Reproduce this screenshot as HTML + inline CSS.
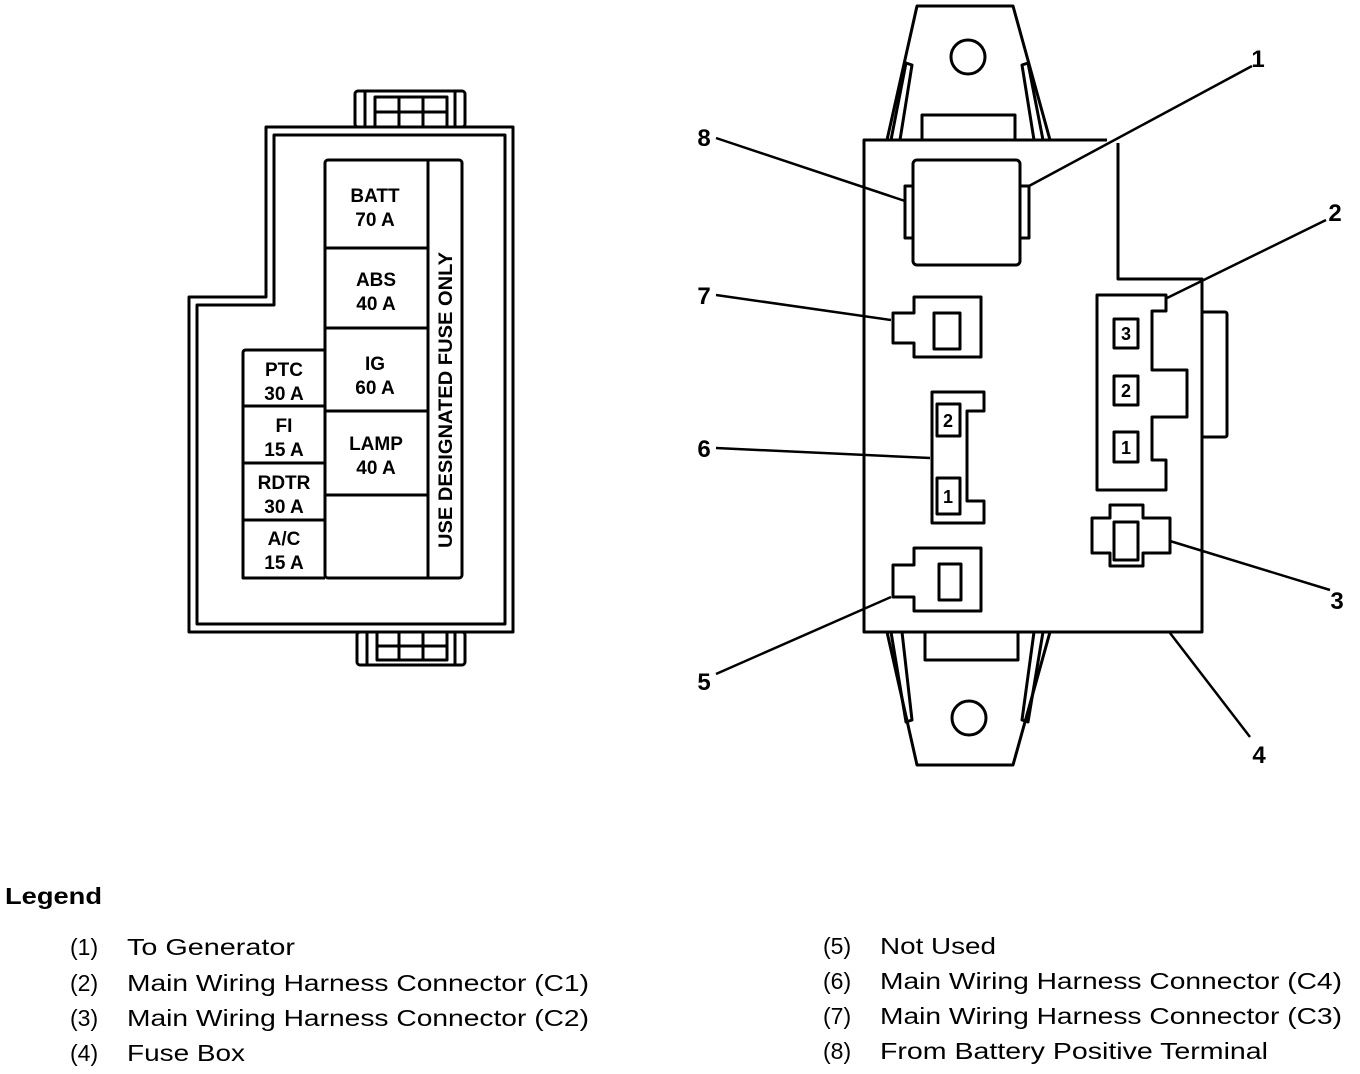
<!DOCTYPE html>
<html><head><meta charset="utf-8"><style>html,body{margin:0;padding:0;background:#fff}svg{display:block}</style></head>
<body>
<svg width="1360" height="1074" viewBox="0 0 1360 1074" xmlns="http://www.w3.org/2000/svg" font-family="Liberation Sans, Arial, sans-serif">
<g fill="none" stroke="#000" stroke-width="3" stroke-linejoin="round">
<!-- LEFT FUSE BOX -->
<rect x="355" y="91" width="110" height="36" rx="3"/>
<line x1="365" y1="91" x2="365" y2="127"/><line x1="455" y1="91" x2="455" y2="127"/>
<rect x="375" y="97" width="72" height="30"/>
<line x1="399" y1="97" x2="399" y2="127"/><line x1="423" y1="97" x2="423" y2="127"/><line x1="375" y1="112" x2="447" y2="112"/>
<rect x="357" y="632" width="108" height="33" rx="3"/>
<line x1="367" y1="632" x2="367" y2="665"/><line x1="455" y1="632" x2="455" y2="665"/>
<rect x="377" y="632" width="70" height="28"/>
<line x1="399" y1="632" x2="399" y2="660"/><line x1="423" y1="632" x2="423" y2="660"/><line x1="377" y1="646" x2="447" y2="646"/>
<path d="M266 127 H513 V632 H189 V297 H266 Z" fill="#fff"/>
<path d="M274 135 H505 V624 H197 V305 H274 Z"/>
<rect x="325" y="160" width="137" height="418" rx="3"/>
<line x1="428" y1="160" x2="428" y2="578"/>
<line x1="325" y1="248" x2="428" y2="248"/>
<line x1="325" y1="328" x2="428" y2="328"/>
<line x1="325" y1="411" x2="428" y2="411"/>
<line x1="325" y1="495" x2="428" y2="495"/>
<path d="M325 350 H246 Q243 350 243 353 V578 H325"/>
<line x1="243" y1="406" x2="325" y2="406"/>
<line x1="243" y1="463" x2="325" y2="463"/>
<line x1="243" y1="520" x2="325" y2="520"/>

<!-- RIGHT FUSE BOX -->
<path d="M887 140 L917 6 H1013 L1050 140"/>
<path d="M900 140 L912 65 L906 63 L891 140"/>
<path d="M1034 140 L1022 65 L1028 63 L1043 140"/>
<ellipse cx="968" cy="57" rx="17" ry="17"/>
<rect x="922" y="115" width="93" height="25"/>
<path d="M887 632 L917 765 H1013 L1050 632"/>
<path d="M891 632 L906 722 L912 720 L902 632"/>
<path d="M1043 632 L1028 722 L1022 720 L1034 632"/>
<ellipse cx="969" cy="718" rx="17" ry="17"/>
<rect x="925" y="632" width="93" height="28"/>
<rect x="1202" y="312" width="25" height="125" rx="2"/>
<path d="M1107 140 H864 V632 H1202 V279 H1118 V143" fill="#fff"/>
<rect x="913" y="160" width="107" height="105" rx="4"/>
<rect x="905" y="186" width="8" height="52"/>
<rect x="1020" y="186" width="9" height="52"/>
<path d="M914 297 H981 V357 H914 V343 H893 V313 H914 Z"/>
<rect x="934" y="313" width="26" height="36"/>
<path d="M914 548 H981 V611 H914 V597 H893 V565 H914 Z"/>
<rect x="939" y="564" width="22" height="36"/>
<path d="M932 392 H984 V411 H967 V501 H984 V523 H932 Z"/>
<rect x="937" y="404" width="23" height="32"/>
<rect x="937" y="478" width="23" height="36"/>
<path d="M1097 295 H1166 V311 H1152 V370 H1187 V417 H1152 V460 H1166 V490 H1097 Z"/>
<rect x="1114" y="319" width="24" height="29"/>
<rect x="1114" y="376" width="24" height="29"/>
<rect x="1114" y="432" width="24" height="30"/>
<path d="M1110 505 H1143 V518 H1170 V553 H1143 V566 H1110 V553 H1092 V518 H1110 Z"/>
<rect x="1114" y="522" width="24" height="38"/>
<g stroke-width="2.5">
<line x1="1029" y1="186" x2="1252" y2="66"/>
<line x1="905" y1="201" x2="716" y2="138"/>
<line x1="1167" y1="298" x2="1326" y2="220"/>
<line x1="891" y1="320" x2="716" y2="295"/>
<line x1="930" y1="458" x2="716" y2="448"/>
<line x1="1170" y1="541" x2="1330" y2="590"/>
<line x1="891" y1="597" x2="716" y2="674"/>
<line x1="1170" y1="633" x2="1250" y2="737"/>
</g>
</g>

<g font-size="19" text-anchor="middle" fill="#000" font-weight="bold">
<text x="375" y="202">BATT</text><text x="375" y="226">70 A</text>
<text x="376" y="286">ABS</text><text x="376" y="310">40 A</text>
<text x="375" y="370">IG</text><text x="375" y="394">60 A</text>
<text x="376" y="450">LAMP</text><text x="376" y="474">40 A</text>
<text x="284" y="376">PTC</text><text x="284" y="400">30 A</text>
<text x="284" y="432">FI</text><text x="284" y="456">15 A</text>
<text x="284" y="489">RDTR</text><text x="284" y="513">30 A</text>
<text x="284" y="545">A/C</text><text x="284" y="569">15 A</text>
<text transform="translate(452,400) rotate(-90)" font-size="19" textLength="296" lengthAdjust="spacingAndGlyphs">USE DESIGNATED FUSE ONLY</text>
</g>
<g font-size="24" font-weight="bold" text-anchor="middle">
<text x="1258" y="67">1</text>
<text x="704" y="146">8</text>
<text x="1335" y="221">2</text>
<text x="704" y="304">7</text>
<text x="704" y="457">6</text>
<text x="1337" y="609">3</text>
<text x="704" y="690">5</text>
<text x="1259" y="763">4</text>
</g>
<g font-size="18" font-weight="bold" text-anchor="middle">
<text x="1126" y="340">3</text><text x="1126" y="397">2</text><text x="1126" y="454">1</text>
<text x="948" y="427">2</text><text x="948" y="503">1</text>
</g>
<text x="5" y="904" font-size="23" font-weight="bold" textLength="97" lengthAdjust="spacingAndGlyphs">Legend</text>
<g font-size="23">
<text x="70" y="955">(1)</text><text x="127" y="955" textLength="168" lengthAdjust="spacingAndGlyphs">To Generator</text>
<text x="70" y="991">(2)</text><text x="127" y="991" textLength="462" lengthAdjust="spacingAndGlyphs">Main Wiring Harness Connector (C1)</text>
<text x="70" y="1026">(3)</text><text x="127" y="1026" textLength="462" lengthAdjust="spacingAndGlyphs">Main Wiring Harness Connector (C2)</text>
<text x="70" y="1061">(4)</text><text x="127" y="1061" textLength="118" lengthAdjust="spacingAndGlyphs">Fuse Box</text>
<text x="823" y="954">(5)</text><text x="880" y="954" textLength="116" lengthAdjust="spacingAndGlyphs">Not Used</text>
<text x="823" y="989">(6)</text><text x="880" y="989" textLength="462" lengthAdjust="spacingAndGlyphs">Main Wiring Harness Connector (C4)</text>
<text x="823" y="1024">(7)</text><text x="880" y="1024" textLength="462" lengthAdjust="spacingAndGlyphs">Main Wiring Harness Connector (C3)</text>
<text x="823" y="1059">(8)</text><text x="880" y="1059" textLength="388" lengthAdjust="spacingAndGlyphs">From Battery Positive Terminal</text>
</g>
</svg>
</body></html>
